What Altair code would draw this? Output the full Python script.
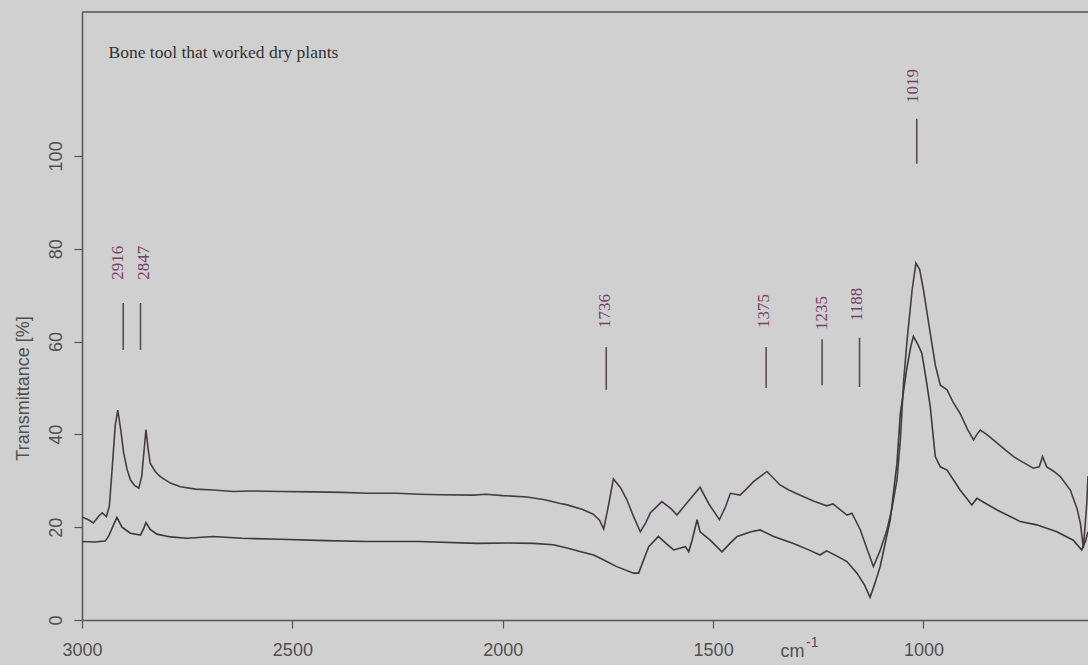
import altair as alt
import pandas as pd

# ---- data ----
upper_wn = [3000, 2985, 2973, 2960, 2952, 2942, 2935, 2928, 2921, 2915, 2908, 2901, 2893, 2885, 2875, 2865,
            2858, 2852, 2848, 2843, 2838, 2826, 2814, 2790, 2766, 2730, 2688, 2640, 2600, 2529, 2450, 2380,
            2322, 2250, 2200, 2150, 2070, 2040, 2000, 1942, 1900, 1863, 1847, 1810, 1785, 1770, 1760, 1748,
            1737, 1720, 1705, 1690, 1673, 1660, 1649, 1622, 1600, 1586, 1560, 1531, 1510, 1485, 1470, 1459,
            1436, 1420, 1404, 1372, 1341, 1320, 1293, 1260, 1230, 1215, 1182, 1170, 1150, 1135, 1119, 1103,
            1087, 1075, 1063, 1055, 1047, 1039, 1027, 1018, 1009, 1000, 984, 972, 960, 944, 930, 913, 895,
            881, 873, 865, 850, 834, 810, 786, 760, 739, 725, 717, 707, 690, 675, 651, 635, 627, 620, 612, 609]
upper_t = [22.2, 21.6, 20.9, 22.4, 23.1, 22.3, 24.5, 33.0, 42.0, 45.2, 41.0, 36.0, 32.5, 30.2, 29.0, 28.4,
           31.0, 37.0, 41.0, 37.0, 33.8, 32.0, 30.9, 29.5, 28.7, 28.2, 28.0, 27.7, 27.8, 27.7, 27.6, 27.5,
           27.3, 27.3, 27.1, 27.0, 26.9, 27.1, 26.8, 26.5, 25.9, 25.1, 24.8, 23.8, 22.8, 21.5, 19.6, 25.0,
           30.4, 28.5, 25.9, 22.5, 19.0, 21.0, 23.1, 25.5, 24.0, 22.6, 25.5, 28.6, 25.0, 21.6, 24.5, 27.3,
           26.9, 28.3, 29.8, 32.0, 29.1, 28.0, 26.9, 25.6, 24.6, 25.0, 22.6, 23.0, 19.4, 15.5, 11.5, 15.0,
           19.4, 24.0, 30.2, 38.8, 51.7, 60.3, 71.1, 76.9, 75.5, 71.1, 61.8, 55.0, 50.6, 49.6, 47.0, 44.5, 41.0,
           38.8, 40.0, 40.9, 40.0, 38.8, 37.0, 35.2, 33.8, 32.7, 33.0, 35.2, 33.0, 32.0, 30.9, 28.0, 24.0, 20.8,
           15.5, 25.0, 31.0]

lower_wn = [3000, 2970, 2945, 2937, 2925, 2917, 2905, 2885, 2861, 2853, 2848, 2838, 2822, 2790, 2750, 2688,
            2620, 2529, 2420, 2323, 2200, 2061, 1990, 1927, 1880, 1847, 1810, 1784, 1768, 1729, 1689, 1677,
            1665, 1653, 1630, 1612, 1594, 1566, 1558, 1550, 1538, 1531, 1507, 1479, 1460, 1443, 1410, 1388,
            1356, 1309, 1270, 1246, 1230, 1200, 1182, 1158, 1140, 1127, 1115, 1103, 1079, 1063, 1055, 1040,
            1030, 1024, 1014, 1004, 994, 984, 972, 960, 944, 913, 885, 873, 850, 825, 770, 731, 683, 644, 624,
            615, 609]
lower_t = [16.9, 16.8, 17.0, 18.0, 20.5, 22.1, 20.0, 18.7, 18.3, 19.8, 21.0, 19.5, 18.5, 17.9, 17.6, 18.0,
           17.6, 17.4, 17.1, 16.9, 16.9, 16.5, 16.6, 16.5, 16.2, 15.5, 14.6, 14.0, 13.3, 11.5, 10.1, 10.1,
           13.0, 15.8, 18.0, 16.5, 15.1, 15.8, 14.7, 17.2, 21.6, 19.0, 17.2, 14.7, 16.5, 18.0, 19.0, 19.4,
           18.0, 16.5, 15.0, 14.0, 14.9, 13.5, 12.6, 10.1, 7.5, 4.9, 8.0, 11.5, 21.6, 33.8, 44.5, 54.0,
           59.0, 61.1, 59.5, 57.5, 52.0, 46.0, 35.2, 33.0, 32.3, 28.0, 24.8, 26.2, 25.0, 23.7, 21.2, 20.5, 19.0,
           17.2, 15.1, 17.0, 19.0]

peak_labels = ["2916", "2847", "1736", "1375", "1235", "1188", "1019"]
label_wn = [2915, 2852, 1756, 1380, 1241, 1157, 1024]
label_base_t = [73.3, 73.3, 62.9, 62.9, 62.5, 64.4, 111.4]
line_wn = [2902, 2861, 1754, 1374, 1241, 1152, 1016]
line_top_t = [68.3, 68.3, 58.8, 58.8, 60.5, 60.8, 108.0]
line_bot_t = [58.2, 58.2, 49.6, 50.0, 50.6, 50.2, 98.3]

x_ticks = [3000, 2500, 2000, 1500, 1000]
y_ticks = [0, 20, 40, 60, 80, 100]
sample_name = "Bone tool that worked dry plants"

W, H = 1006, 608
X_DOM = [3000, 609]
Y_DOM = [0, 131]
BG = "#d0d0d0"
AX = "#555555"
TXT = "#505050"

spec = pd.concat([
    pd.DataFrame({"wn": upper_wn, "t": upper_t, "s": "upper"}),
    pd.DataFrame({"wn": lower_wn, "t": lower_t, "s": "lower"}),
])
ann = pd.DataFrame({"lab": peak_labels, "lx": label_wn, "ly": label_base_t,
                    "x": line_wn, "y1": line_top_t, "y2": line_bot_t})

xs = alt.Scale(domain=X_DOM, nice=False, zero=False)
ys = alt.Scale(domain=Y_DOM, nice=False, zero=False)

xaxis = alt.Axis(values=x_ticks, title=None, grid=False, domainColor=AX, domainWidth=1.5,
                 tickColor=AX, tickSize=8, tickWidth=1.2, labelFontSize=18, labelFont="Liberation Sans",
                 labelColor=TXT, labelPadding=13, labelBaseline="top", labelFlush=False, format="d")
yaxis = alt.Axis(values=y_ticks, title="Transmittance [%]", grid=False, domainColor=AX, domainWidth=1.5,
                 tickColor=AX, tickSize=8, tickWidth=1.2, labelFontSize=18, labelFont="Liberation Sans",
                 labelColor=TXT, labelAngle=270, labelAlign="center", labelBaseline="bottom",
                 labelPadding=9, labelFlush=False,
                 titleFont="Liberation Sans", titleFontSize=18, titleFontWeight="normal", titleColor=TXT,
                 titleAngle=270, titleAlign="center", titleBaseline="middle", titleX=-59, titleY=376)

lines = alt.Chart(spec).mark_line(strokeWidth=1.6, clip=True).encode(
    x=alt.X("wn:Q", scale=xs, axis=xaxis),
    y=alt.Y("t:Q", scale=ys, axis=yaxis),
    color=alt.Color("s:N", scale=alt.Scale(domain=["upper", "lower"], range=["#4a3a48", "#3a3a3a"]),
                    legend=None),
    detail="s:N",
)

rules = alt.Chart(ann).mark_rule(color="#5b4b58", strokeWidth=1.6).encode(
    x=alt.X("x:Q", scale=xs), y=alt.Y("y1:Q", scale=ys), y2="y2:Q")

labels = alt.Chart(ann).mark_text(angle=270, align="left", baseline="middle", font="Liberation Serif",
                                  fontSize=17, color="#76406b").encode(
    x=alt.X("lx:Q", scale=xs), y=alt.Y("ly:Q", scale=ys), text="lab:N")

name = alt.Chart(pd.DataFrame({"x": [2937], "y": [122.2], "t": [sample_name]})).mark_text(
    align="left", baseline="middle", font="Liberation Serif", fontSize=17.5, color="#333333").encode(
    x=alt.X("x:Q", scale=xs), y=alt.Y("y:Q", scale=ys), text="t:N")

unit_cm = alt.Chart(pd.DataFrame({"x": [1340], "t": ["cm"]})).mark_text(
    align="left", baseline="alphabetic", font="Liberation Sans", fontSize=18, color=TXT).encode(
    x=alt.X("x:Q", scale=xs), y=alt.value(H + 37), text="t:N")
unit_exp = alt.Chart(pd.DataFrame({"x": [1279], "t": ["-1"]})).mark_text(
    align="left", baseline="alphabetic", font="Liberation Sans", fontSize=14, color=TXT).encode(
    x=alt.X("x:Q", scale=xs), y=alt.value(H + 27), text="t:N")

top_frame = alt.Chart(pd.DataFrame({"a": [0]})).mark_rule(color=AX, strokeWidth=1.5).encode(
    x=alt.value(0), x2=alt.value(W), y=alt.value(0))

chart = alt.layer(top_frame, lines, rules, labels, name, unit_cm, unit_exp).properties(
    width=W, height=H, background=BG,
    autosize=alt.AutoSizeParams(type="none"),
    padding={"left": 82, "top": 12, "right": 0, "bottom": 45},
).configure_view(stroke=None, fill=BG)

chart.save("out.html", embed_options={"renderer": "svg", "actions": False})
